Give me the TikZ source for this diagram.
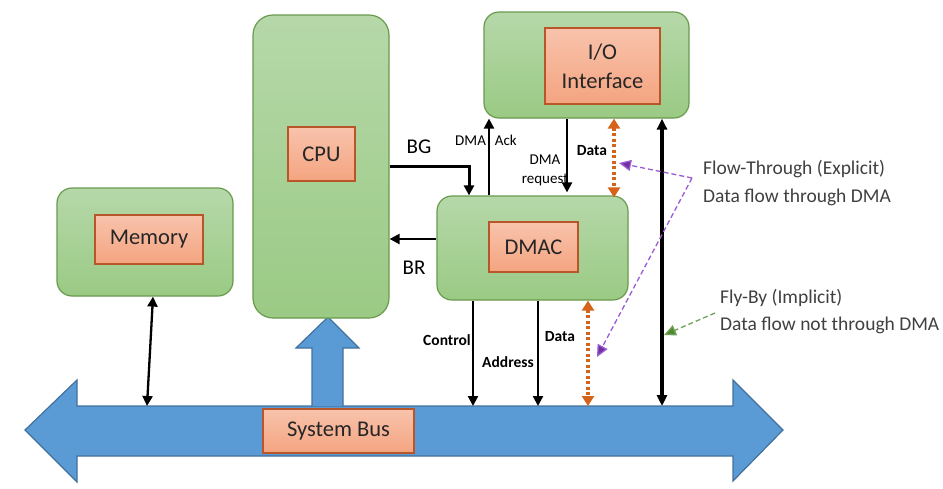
\documentclass[tikz,border=0pt]{standalone}
\usepackage{fontspec}
\setmainfont{Carlito}
\usetikzlibrary{arrows.meta}
\definecolor{gtop}{HTML}{B6D8A9}
\definecolor{gbot}{HTML}{9ACA84}
\definecolor{gline}{HTML}{6A9A4E}
\definecolor{otop}{HTML}{F8C3AC}
\definecolor{obot}{HTML}{F4A480}
\definecolor{oline}{HTML}{B8562A}
\definecolor{bfill}{HTML}{5B9BD5}
\definecolor{bline}{HTML}{41719C}
\definecolor{dotor}{HTML}{D5631A}
\definecolor{purp}{HTML}{9B5BD3}
\definecolor{purpt}{HTML}{7030A0}
\definecolor{grn}{HTML}{4E8A2E}
\definecolor{txtg}{HTML}{404040}
\begin{document}
\begin{tikzpicture}[x=1pt,y=-1pt,
  outerbox/.style={draw=gline, line width=1.2pt, rounded corners=15pt, top color=gtop, bottom color=gbot, inner sep=0pt},
  innerbox/.style={draw=oline, line width=1.2pt, top color=otop, bottom color=obot, inner sep=0pt, align=center, font=\fontsize{22.5}{29}\selectfont, text=black!85},
  sig/.style={line width=2.3pt, -{Triangle[length=10pt,width=10pt]}},
  dsig/.style={line width=2.3pt, {Triangle[length=10pt,width=10pt]}-{Triangle[length=10pt,width=10pt]}},
  dotarrow/.style={draw=dotor, line width=3.5pt, dash pattern=on 3pt off 2.5pt, {Triangle[length=10pt,width=12pt]}-{Triangle[length=10pt,width=12pt]}},
  pdash/.style={draw=purp, line width=1.3pt, dash pattern=on 5pt off 3pt, -{Triangle[length=12pt,width=11pt,fill=purpt]}},
  gdash/.style={draw=grn!80, line width=1.3pt, dash pattern=on 5pt off 3pt, -{Triangle[length=12pt,width=11pt,fill=grn]}},
  lbl/.style={inner sep=0pt, font=\fontsize{15}{19}\selectfont, align=center},
  blbl/.style={inner sep=0pt, font=\bfseries\fontsize{15.5}{19}\selectfont},
  side/.style={inner sep=0pt, anchor=west, text=txtg, font=\fontsize{19.5}{23}\selectfont}
]
\useasboundingbox (0,0) rectangle (943,488);

% system bus (double arrow)
\draw[fill=bfill, draw=bline, line width=1.2pt]
  (25,430) -- (77,380) -- (77,406) -- (733,406) -- (733,380) -- (783,430)
  -- (733,481) -- (733,456) -- (77,456) -- (77,482) -- cycle;
% up arrow to CPU
\draw[fill=bfill, draw=bline, line width=1.2pt]
  (312,406) -- (312,348) -- (296,348) -- (328,317) -- (359,348) -- (343,348) -- (343,406);
\node[innerbox, minimum width=151pt, minimum height=44pt] (bus) at (338.5,431) {System Bus};

% blocks
\node[outerbox, minimum width=176pt, minimum height=108pt] (mem) at (145,242) {};
\node[innerbox, minimum width=108pt, minimum height=49pt] (memi) at (149,239.5) {Memory};
\node[outerbox, rounded corners=20pt, minimum width=136pt, minimum height=303pt] (cpu) at (321,166.5) {};
\node[innerbox, minimum width=67pt, minimum height=54pt] (cpui) at (321.5,154) {CPU};
\node[outerbox, minimum width=205pt, minimum height=106pt] (io) at (586.5,65) {};
\node[innerbox, minimum width=115pt, minimum height=76pt] (ioi) at (602.5,66) {I/O\\Interface};
\node[outerbox, minimum width=191pt, minimum height=104pt] (dmac) at (532.5,248) {};
\node[innerbox, minimum width=89pt, minimum height=50pt] (dmaci) at (533.5,247) {DMAC};

% helper coordinates
\coordinate (busTop) at (0,406);
\coordinate (xBG) at (469,0);
\coordinate (xAck) at (489,0);
\coordinate (xReq) at (567,0);
\coordinate (xDt) at (614,0);
\coordinate (xFB) at (662,0);
\coordinate (xCtl) at (473,0);
\coordinate (xAdr) at (538,0);
\coordinate (xDb) at (588,0);
\coordinate (xMemT) at (153,0);
\coordinate (memB) at (147,406);
\coordinate (brS) at ([yshift=9pt]dmac.west);

% connectors
\draw[dsig] (mem.south -| xMemT) -- (memB);
\draw[sig, line width=3pt] (cpu.east) -| (dmac.north -| xBG);
\draw[sig] (brS) -- (cpu.east |- brS);
\draw[sig] (dmac.north -| xAck) -- (io.south -| xAck);
\draw[sig] (io.south -| xReq) -- ([yshift=3pt]dmac.north -| xReq);
\draw[dotarrow] (io.south -| xDt) -- ([yshift=-2pt]dmac.north -| xDt);
\draw[line width=3.2pt, {Triangle[length=11pt,width=10pt]}-{Triangle[length=11pt,width=10pt]}] (busTop -| xFB) -- (io.south -| xFB);
\draw[sig] (dmac.south -| xCtl) -- (busTop -| xCtl);
\draw[sig] (dmac.south -| xAdr) -- (busTop -| xAdr);
\draw[dotarrow] (dmac.south -| xDb) -- (busTop -| xDb);

% labels
\node[inner sep=0pt, font=\fontsize{21}{24}\selectfont] (bg) at (419,147) {BG};
\node[inner sep=0pt, font=\fontsize{21}{24}\selectfont] (br) at (414,268) {BR};
\node[lbl] (ack) at (486,140) {DMA\hspace{9pt}Ack};
\node[lbl] (req) at (545,170) {DMA\\request};
\node[blbl] (dt1) at (592,151) {Data};
\node[blbl] (ctl) at (447,340) {Control};
\node[blbl] (adr) at (508,362) {Address};
\node[blbl] (dt2) at (560,337) {Data};

\node[side] (ft1) at (703,169) {Flow-Through (Explicit)};
\node[side] (ft2) at (703,197) {Data flow through DMA};
\node[side] (fb1) at (720,298) {Fly-By (Implicit)};
\node[side] (fb2) at (720,325) {Data flow not through DMA};

% annotation arrows
\coordinate (ftC) at (692,178);
\coordinate (ftA) at (619,163);
\coordinate (ftB) at (597,357);
\coordinate (fbC) at (715,313);
\coordinate (fbA) at (664,335);
\draw[pdash] (ftC) -- (ftA);
\draw[pdash] (ftC) -- (ftB);
\draw[gdash] (fbC) -- (fbA);
\end{tikzpicture}
\end{document}
